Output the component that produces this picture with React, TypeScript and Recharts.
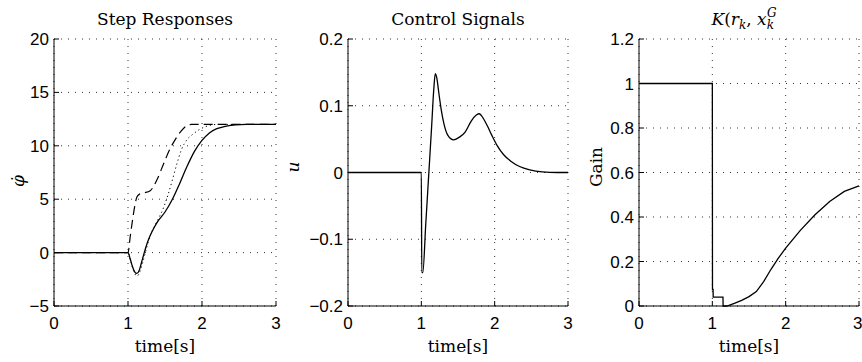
import { CartesianGrid, Line, LineChart, XAxis, YAxis } from "recharts"

// shared time axis
const timeTicks = [0, 1, 2, 3]

// step responses (phi dot)
const phiSolidT = [0, 1.0, 1.03, 1.06, 1.09, 1.12, 1.15, 1.18, 1.22, 1.26, 1.3, 1.35, 1.4, 1.5, 1.6, 1.7, 1.8, 1.9, 2.0, 2.1, 2.2, 2.3, 2.45, 2.6, 2.8, 3.0]
const phiSolid = [0, 0, -0.6, -1.3, -1.8, -1.95, -1.7, -1.0, 0.0, 0.9, 1.6, 2.3, 2.9, 3.8, 5.0, 6.5, 8.1, 9.5, 10.5, 11.2, 11.6, 11.8, 11.95, 12, 12, 12]

const phiDashedT = [0, 1.0, 1.03, 1.06, 1.09, 1.12, 1.16, 1.22, 1.3, 1.39, 1.48, 1.56, 1.64, 1.72, 1.8, 1.86, 2.0, 3.0]
const phiDashed = [0, 0, 1.5, 3.0, 4.3, 5.2, 5.5, 5.6, 5.8, 6.8, 8.3, 9.6, 10.6, 11.4, 11.9, 12, 12, 12]

const phiDottedT = [0, 1.0, 1.04, 1.08, 1.12, 1.16, 1.2, 1.25, 1.3, 1.36, 1.42, 1.48, 1.54, 1.6, 1.66, 1.72, 1.8, 1.88, 1.96, 2.05, 2.2, 3.0]
const phiDotted = [0, 0, -0.9, -1.8, -2.2, -1.8, -0.9, 0.4, 1.6, 2.5, 3.3, 4.2, 5.4, 6.8, 8.3, 9.6, 10.6, 11.1, 11.5, 11.8, 12, 12]
const phiTicks = [-5, 0, 5, 10, 15, 20]

// control signal
const uT = [0, 1.0, 1.006, 1.02, 1.06, 1.1, 1.14, 1.17, 1.19, 1.21, 1.24, 1.27, 1.31, 1.36, 1.44, 1.52, 1.6, 1.68, 1.75, 1.79, 1.84, 1.9, 1.96, 2.03, 2.12, 2.22, 2.34, 2.48, 2.65, 2.85, 3.0]
const uVals = [0, 0, -0.15, -0.15, -0.078, -0.005, 0.068, 0.125, 0.148, 0.142, 0.118, 0.095, 0.072, 0.056, 0.049, 0.053, 0.061, 0.077, 0.086, 0.088, 0.082, 0.07, 0.056, 0.041, 0.027, 0.017, 0.009, 0.004, 0.001, 0, 0]
const uTicks = [-0.2, -0.1, 0, 0.1, 0.2]

// gain
const gainT = [0, 1.0, 1.002, 1.01, 1.012, 1.145, 1.147, 1.2, 1.3, 1.4, 1.5, 1.6, 1.7, 1.8, 1.9, 2.0, 2.2, 2.4, 2.6, 2.8, 3.0]
const gainVals = [1, 1, 0.075, 0.075, 0.04, 0.04, 0, 0, 0.012, 0.025, 0.042, 0.065, 0.11, 0.165, 0.215, 0.26, 0.34, 0.41, 0.47, 0.515, 0.54]
const gainTicks = [0, 0.2, 0.4, 0.6, 0.8, 1, 1.2]

type Pt = { x: number; y: number }
const toPoints = (t: number[], v: number[]): Pt[] => t.map((x, i) => ({ x, y: v[i] }))

const fmt = (v: number) => (v < 0 ? `\u2212${Math.abs(v)}` : `${v}`)

const PLOT_LEFT = 54
const CHART_H = 362
const SERIF = "'DejaVu Serif', serif"
const SANS = "'Liberation Sans', Arial, sans-serif"

interface SeriesDef {
  data: Pt[]
  dash?: string
  type: "monotone" | "linear"
  width?: number
}

interface PanelProps {
  left: number
  chartWidth: number
  plotWidth: number
  yDomain: [number, number]
  yTicks: number[]
  lines: SeriesDef[]
  title: React.ReactNode
  titleShift?: number
  yLabel: React.ReactNode
  yLabelX: number
  yLabelY: number
}

const Panel = ({ left, chartWidth, plotWidth, yDomain, yTicks, lines, title, titleShift = 0, yLabel, yLabelX, yLabelY }: PanelProps) => {
  const cx = PLOT_LEFT + plotWidth / 2
  const tickStyle = { fontSize: 17, fill: "#000", fontFamily: SANS }
  return (
    <div style={{ position: "absolute", left, top: 0, width: chartWidth, height: CHART_H }}>
      <LineChart
        width={chartWidth}
        height={CHART_H}
        margin={{ top: 39, right: chartWidth - PLOT_LEFT - plotWidth, bottom: 26, left: 14 }}
      >
        <CartesianGrid stroke="#333" strokeDasharray="1 6" />
        <XAxis
          dataKey="x"
          type="number"
          domain={[0, 3]}
          ticks={timeTicks}
          height={30}
          tickSize={-5}
          tickMargin={16}
          tick={tickStyle}
          axisLine={{ stroke: "#000" }}
          tickLine={{ stroke: "#000" }}
          allowDuplicatedCategory={false}
        />
        <XAxis
          xAxisId="top"
          orientation="top"
          dataKey="x"
          type="number"
          domain={[0, 3]}
          ticks={timeTicks}
          height={0}
          tickSize={-5}
          tick={false}
          axisLine={{ stroke: "#000" }}
          tickLine={{ stroke: "#000" }}
        />
        <YAxis
          type="number"
          domain={yDomain}
          ticks={yTicks}
          width={40}
          tickSize={-5}
          tickMargin={10}
          tick={tickStyle}
          tickFormatter={fmt}
          axisLine={{ stroke: "#000" }}
          tickLine={{ stroke: "#000" }}
        />
        <YAxis
          yAxisId="right"
          orientation="right"
          type="number"
          domain={yDomain}
          ticks={yTicks}
          width={0}
          tickSize={-5}
          tick={false}
          axisLine={{ stroke: "#000" }}
          tickLine={{ stroke: "#000" }}
        />
        {lines.map((s, i) => (
          <Line
            key={i}
            data={s.data}
            dataKey="y"
            type={s.type}
            stroke="#000"
            strokeWidth={s.width ?? 1.3}
            strokeDasharray={s.dash}
            dot={false}
            activeDot={false}
            isAnimationActive={false}
          />
        ))}
      </LineChart>
      <svg
        width={chartWidth}
        height={CHART_H}
        style={{ position: "absolute", left: 0, top: 0, pointerEvents: "none", overflow: "visible" }}
      >
        <text x={cx + titleShift} y={25} textAnchor="middle" fontFamily={SERIF} fontSize={17} fill="#000">
          {title}
        </text>
        <text x={cx} y={352} textAnchor="middle" fontFamily={SERIF} fontSize={17} fill="#000">
          time[s]
        </text>
        <text
          x={yLabelX}
          y={yLabelY}
          transform={`rotate(-90 ${yLabelX} ${yLabelY})`}
          textAnchor="middle"
          dominantBaseline="central"
          fontFamily={SERIF}
          fontSize={17}
          fill="#000"
        >
          {yLabel}
        </text>
      </svg>
    </div>
  )
}

export default function App() {
  return (
    <div
      style={{
        position: "absolute",
        left: 0,
        top: 0,
        width: 862,
        height: 362,
        overflow: "hidden",
        background: "#fff",
      }}
    >
      <Panel
        left={0}
        chartWidth={290}
        plotWidth={222}
        yDomain={[-5, 20]}
        yTicks={phiTicks}
        lines={[
          { data: toPoints(phiDottedT, phiDotted), dash: "1.2 3", type: "monotone", width: 1 },
          { data: toPoints(phiDashedT, phiDashed), dash: "9 5", type: "monotone", width: 1.2 },
          { data: toPoints(phiSolidT, phiSolid), type: "monotone" },
        ]}
        title="Step Responses"
        yLabel={<tspan fontStyle="italic">{"\u03c6\u0307"}</tspan>}
        yLabelX={18}
        yLabelY={181}
      />
      <Panel
        left={294}
        chartWidth={290}
        plotWidth={220}
        yDomain={[-0.2, 0.2]}
        yTicks={uTicks}
        lines={[{ data: toPoints(uT, uVals), type: "monotone" }]}
        title="Control Signals"
        yLabel={<tspan fontStyle="italic">u</tspan>}
        yLabelX={-1}
        yLabelY={167}
      />
      <Panel
        left={585}
        chartWidth={277}
        plotWidth={220}
        yDomain={[0, 1.2]}
        yTicks={gainTicks}
        lines={[{ data: toPoints(gainT, gainVals), type: "linear" }]}
        title={
          <>
            <tspan fontStyle="italic">K</tspan>
            <tspan>(</tspan>
            <tspan fontStyle="italic">r</tspan>
            <tspan fontStyle="italic" fontSize={12} dy={4}>k</tspan>
            <tspan dy={-4}>, </tspan>
            <tspan fontStyle="italic">x</tspan>
            <tspan fontStyle="italic" fontSize={12} dy={4}>k</tspan>
            <tspan fontStyle="italic" fontSize={12} dx={-7} dy={-12}>G</tspan>
          </>
        }
        titleShift={-5}
        yLabel="Gain"
        yLabelX={11}
        yLabelY={167}
      />
    </div>
  )
}
